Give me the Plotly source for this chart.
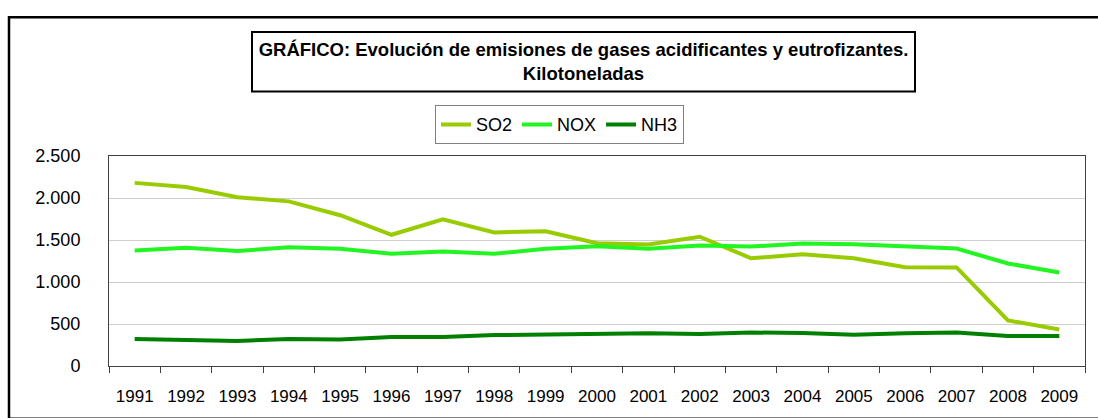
import plotly.graph_objects as go

years = [str(y) for y in range(1991, 2010)]
so2 = [2180, 2130, 2010, 1960, 1795, 1562, 1745, 1590, 1605, 1461, 1446, 1539,
       1283, 1329, 1283, 1176, 1174, 543, 434]
nox = [1376, 1407, 1368, 1415, 1395, 1337, 1364, 1337, 1395, 1426, 1395, 1434,
       1422, 1457, 1450, 1419, 1399, 1221, 1112]
nh3 = [322, 314, 299, 322, 314, 345, 345, 368, 376, 392, 390, 380,
       399, 392, 372, 390, 399, 357, 357]

series = [("SO2", so2, "#99CC00"), ("NOX", nox, "#22F522"), ("NH3", nh3, "#008000")]

W, H = 1098, 418
L, R, T, B = 109, 13, 156, 47
pw, ph = W - L - R, H - T - B


def px(x):
    return (x - L) / pw


def py(y):
    return (H - B - y) / ph


FONT = "Liberation Sans, Arial, sans-serif"

fig = go.Figure()
for name, vals, col in series:
    fig.add_trace(go.Scatter(x=years, y=vals, name=name, mode="lines",
                             line=dict(color=col, width=4)))

shapes = [
    # outer chart frame
    dict(type="rect", xref="paper", yref="paper", x0=px(9), x1=px(1105),
         y0=py(425), y1=py(14), line=dict(color="black", width=2.5),
         fillcolor="rgba(0,0,0,0)", layer="below"),
    # title box
    dict(type="rect", xref="paper", yref="paper", x0=px(252), x1=px(915),
         y0=py(90), y1=py(29), line=dict(color="black", width=2),
         fillcolor="white", layer="below"),
]

fig.update_layout(
    width=W, height=H,
    margin=dict(l=L, r=R, t=T, b=B),
    paper_bgcolor="white", plot_bgcolor="white",
    separators=",.",
    font=dict(family=FONT, size=17, color="black"),
    title=dict(
        text="<b>GRÁFICO: Evolución de emisiones de gases acidificantes y eutrofizantes.</b>"
             "<br><b>Kilotoneladas</b>",
        x=583.5 / W, xanchor="center", y=1 - 56 / H, yanchor="middle",
        font=dict(family=FONT, size=18.5, color="black"),
    ),
    legend=dict(orientation="h", x=px(435), xanchor="left", y=py(104), yanchor="top",
                bordercolor="#808080", borderwidth=1, bgcolor="white",
                font=dict(family=FONT, size=18, color="black"),
                itemwidth=30, tracegroupgap=0),
    shapes=shapes,
    showlegend=True,
)

fig.update_xaxes(
    type="category", tickson="boundaries", ticks="outside", ticklen=6,
    tickcolor="#404040", showline=True, linecolor="#404040", linewidth=1,
    mirror=True, showgrid=False, tickfont=dict(family=FONT, size=17, color="black"),
    ticklabelstandoff=15, range=[-0.5, 18.5],
)
fig.update_yaxes(
    range=[0, 2500], dtick=500, tickformat=",d", showgrid=True,
    gridcolor="#cfcfcf", gridwidth=1, showline=True, linecolor="#404040",
    linewidth=1, mirror=True, ticks="", zeroline=False,
    tickfont=dict(family=FONT, size=18, color="black"), ticklabelstandoff=24,
)

fig.write_html("out.html", config={"displayModeBar": False},
               post_script="document.body.style.margin='0';document.body.style.overflow='hidden';")
